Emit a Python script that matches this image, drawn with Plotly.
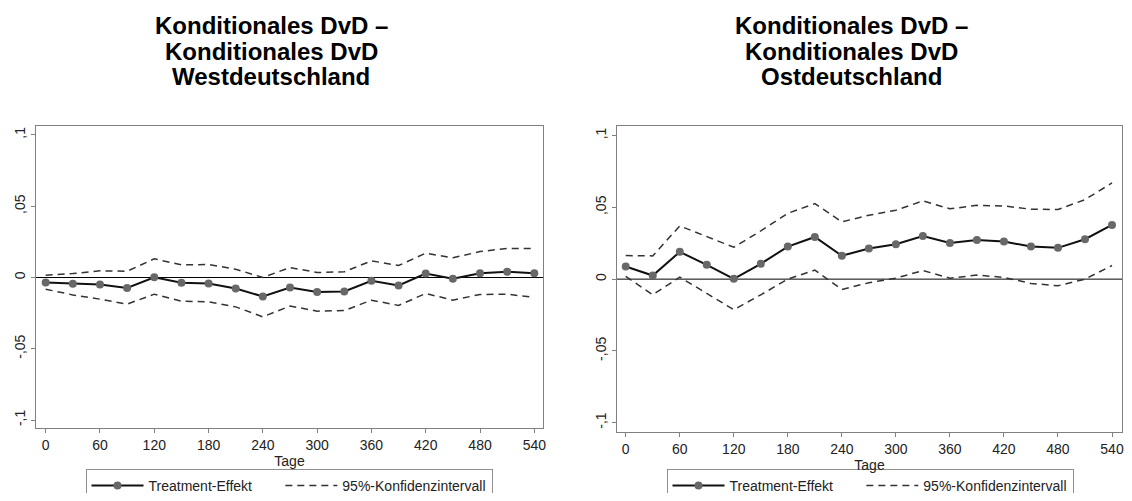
import plotly.graph_objects as go

# Tage nach Behandlung
tage = [0, 30, 60, 90, 120, 150, 180, 210, 240, 270, 300, 330, 360, 390, 420, 450, 480, 510, 540]

# Westdeutschland
west_effekt = [-0.0035, -0.0044, -0.0049, -0.0073, 0.0002, -0.0037, -0.0042, -0.0077, -0.0133, -0.0070,
               -0.0101, -0.0098, -0.0023, -0.0056, 0.0028, -0.0009, 0.0030, 0.0040, 0.0030]
west_ki_oben = [0.0016, 0.0028, 0.0047, 0.0044, 0.0131, 0.0089, 0.0091, 0.0058, 0.0000, 0.0070,
                0.0035, 0.0040, 0.0117, 0.0084, 0.0171, 0.0138, 0.0182, 0.0204, 0.0204]
west_ki_unten = [-0.0082, -0.0122, -0.0152, -0.0187, -0.0117, -0.0166, -0.0171, -0.0206, -0.0276, -0.0200,
                 -0.0236, -0.0232, -0.0159, -0.0196, -0.0112, -0.0159, -0.0119, -0.0117, -0.0140]

# Ostdeutschland
ost_effekt = [0.0088, 0.0025, 0.0190, 0.0100, 0.0002, 0.0107, 0.0227, 0.0294, 0.0163, 0.0213,
              0.0243, 0.0301, 0.0252, 0.0273, 0.0262, 0.0227, 0.0218, 0.0278, 0.0378]
ost_ki_oben = [0.0164, 0.0162, 0.0371, 0.0297, 0.0222, 0.0336, 0.0459, 0.0526, 0.0399, 0.0445,
               0.0480, 0.0545, 0.0490, 0.0514, 0.0510, 0.0487, 0.0485, 0.0554, 0.0670]
ost_ki_unten = [0.0019, -0.0109, 0.0014, -0.0097, -0.0213, -0.0109, 0.0000, 0.0063, -0.0072, -0.0025,
                0.0007, 0.0060, 0.0007, 0.0028, 0.0012, -0.0030, -0.0046, 0.0000, 0.0095]

x_ticks = [0, 60, 120, 180, 240, 300, 360, 420, 480, 540]
y_ticks = [-0.1, -0.05, 0, 0.05, 0.1]
y_ticklabels = ["-,1", "-,05", "0", ",05", ",1"]

titel_links = ["Konditionales DvD –", "Konditionales DvD", "Westdeutschland"]
titel_rechts = ["Konditionales DvD –", "Konditionales DvD", "Ostdeutschland"]

FONT = "Liberation Sans, Arial, sans-serif"
# the page body has an 8px margin all round, so keep the figure inside the window
W, H = 1116, 485
OFF = 8  # page offset of the figure


def px(x):
    return (x - OFF) / W


def py(y):
    return 1 - (y - OFF) / H


fig = go.Figure()


def add_panel(effekt, oben, unten, xa, ya, legend):
    fig.add_trace(go.Scatter(x=tage, y=effekt, mode="lines+markers",
                             name="Treatment-Effekt\u00a0\u00a0\u00a0\u00a0\u00a0\u00a0",
                             line=dict(color="#111111", width=2),
                             marker=dict(color="#686868", size=8),
                             xaxis=xa, yaxis=ya, legend=legend))
    fig.add_trace(go.Scatter(x=tage, y=oben, mode="lines", name="95%-Konfidenzintervall",
                             line=dict(color="#333333", width=1.5, dash="7px,5px"),
                             xaxis=xa, yaxis=ya, legend=legend))
    fig.add_trace(go.Scatter(x=tage, y=unten, mode="lines", showlegend=False,
                             line=dict(color="#333333", width=1.5, dash="7px,5px"),
                             xaxis=xa, yaxis=ya, legend=legend))


add_panel(west_effekt, west_ki_oben, west_ki_unten, "x", "y", "legend")
add_panel(ost_effekt, ost_ki_oben, ost_ki_unten, "x2", "y2", "legend2")

axis_common = dict(showline=True, mirror=True, linecolor="#808080", linewidth=1,
                   showgrid=False, zeroline=False, ticks="outside", ticklen=4,
                   tickcolor="#808080", ticklabeloverflow="allow",
                   tickfont=dict(size=14, color="#222222", family=FONT))
x_title = dict(text="Tage", standoff=0, font=dict(size=14))
legend_common = dict(orientation="h", y=py(469), yanchor="top", xanchor="center",
                     bordercolor="#909090", borderwidth=1, itemwidth=52,
                     font=dict(size=14), tracegroupgap=0)

fig.update_layout(
    width=W, height=H, autosize=False,
    margin=dict(l=0, r=0, t=0, b=0, autoexpand=False),
    paper_bgcolor="white", plot_bgcolor="white",
    font=dict(family=FONT, size=14, color="#222222"),
    xaxis=dict(domain=[px(36), px(543)], range=[-10.7, 549.6], tickvals=x_ticks,
               ticklabelstandoff=0, title=x_title, anchor="y", **axis_common),
    yaxis=dict(domain=[py(428), py(126)], range=[-0.1056, 0.1063], tickvals=y_ticks,
               ticktext=y_ticklabels, tickangle=-90, anchor="x", **axis_common),
    xaxis2=dict(domain=[px(617), px(1122)], range=[-9.7, 551.1], tickvals=x_ticks,
                ticklabelstandoff=0, title=x_title, anchor="y2", **axis_common),
    yaxis2=dict(domain=[py(432), py(126)], range=[-0.1065, 0.1067], tickvals=y_ticks,
                ticktext=y_ticklabels, tickangle=-90, anchor="x2", **axis_common),
    legend=dict(x=px(289), **legend_common),
    legend2=dict(x=px(870), **legend_common),
)

# Nulllinie
for xr, yr in [("x domain", "y"), ("x2 domain", "y2")]:
    fig.add_shape(type="line", xref=xr, yref=yr, x0=0, x1=1, y0=0, y1=0,
                  line=dict(color="black", width=1), layer="below")

# Titel
for titel, xc in [(titel_links, 271), (titel_rechts, 851)]:
    for i, zeile in enumerate(titel):
        fig.add_annotation(text="<b>" + zeile + "</b>", xref="paper", yref="paper",
                           x=px(xc), y=py(26 + 25.5 * i), xanchor="center", yanchor="middle",
                           showarrow=False, font=dict(size=24, color="black", family=FONT))

fig.write_html("out.html")
